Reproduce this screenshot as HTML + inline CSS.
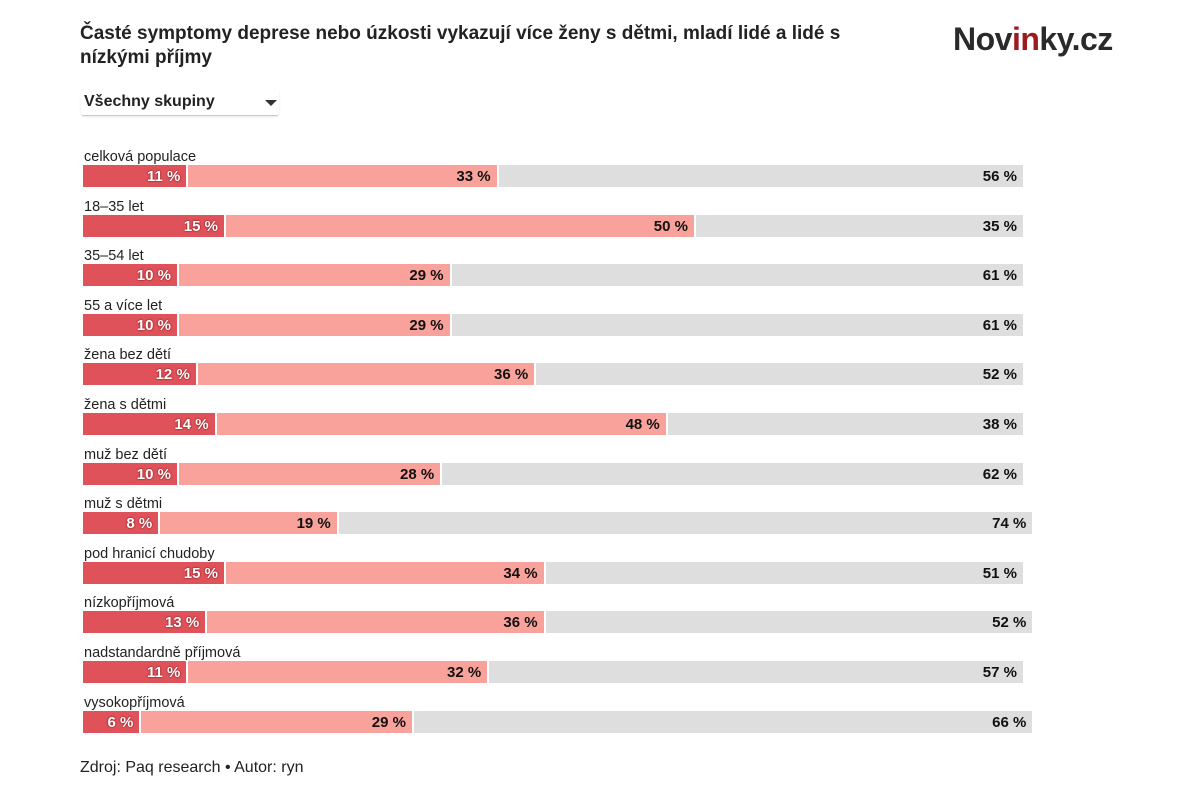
<!DOCTYPE html>
<html><head><meta charset="utf-8"><style>
body{margin:0;width:1200px;height:800px;background:#fff;font-family:"Liberation Sans",sans-serif;color:#222;position:relative;overflow:hidden}
.t{position:absolute;left:80px;top:22px;font-size:19px;font-weight:bold;line-height:24px;width:835px;color:#222}
.logo{position:absolute;left:953px;top:21px;font-size:32px;font-weight:bold;color:#2a2a2a;letter-spacing:-0.5px}
.logo span{color:#9b1b20}
.sel{position:absolute;left:81px;top:90px;width:198px;height:25px;border-bottom:1px solid #ccc;box-shadow:0 1px 2px rgba(0,0,0,.1);border-radius:0 0 3px 3px;font-size:16px;font-weight:bold}
.sel b{position:absolute;left:3px;top:3px}
.sel i{position:absolute;left:184px;top:10px;width:0;height:0;border-left:6px solid transparent;border-right:6px solid transparent;border-top:6px solid #333}
.row{position:absolute;left:83px}
.lb{font-size:14.5px;height:15px;line-height:15px;color:#222;margin-left:1px}
.bar{display:flex;height:22px;margin-top:0px}
.bar div{height:22px;box-sizing:border-box;text-align:right;padding-right:6px;font-size:15px;font-weight:bold;line-height:23px}
.a{background:#e0525a;color:#fff;text-shadow:0 0 2px #8a1a20,0 0 1px #8a1a20}
.b{background:#f9a29b;border-left:2px solid #fff;color:#111}
.c{background:#dedede;border-left:2px solid #fff;color:#111}
.src{position:absolute;left:80px;top:759px;font-size:16px;color:#222}
</style></head><body>
<div class="t">Časté symptomy deprese nebo úzkosti vykazují více ženy s dětmi, mladí lidé a lidé s nízkými příjmy</div>
<div class="logo">Nov<span>in</span>ky.cz</div>
<div class="sel"><b>Všechny skupiny</b><i></i></div>

<div class="row" style="top:150px"><div class="lb">celková populace</div><div class="bar"><div class="a" style="width:103.4px">11 %</div><div class="b" style="width:310.2px">33 %</div><div class="c" style="width:526.4px">56 %</div></div></div>
<div class="row" style="top:199.6px"><div class="lb">18–35 let</div><div class="bar"><div class="a" style="width:141px">15 %</div><div class="b" style="width:470px">50 %</div><div class="c" style="width:329px">35 %</div></div></div>
<div class="row" style="top:249.2px"><div class="lb">35–54 let</div><div class="bar"><div class="a" style="width:94px">10 %</div><div class="b" style="width:272.6px">29 %</div><div class="c" style="width:573.4px">61 %</div></div></div>
<div class="row" style="top:298.8px"><div class="lb">55 a více let</div><div class="bar"><div class="a" style="width:94px">10 %</div><div class="b" style="width:272.6px">29 %</div><div class="c" style="width:573.4px">61 %</div></div></div>
<div class="row" style="top:348.4px"><div class="lb">žena bez dětí</div><div class="bar"><div class="a" style="width:112.8px">12 %</div><div class="b" style="width:338.4px">36 %</div><div class="c" style="width:488.8px">52 %</div></div></div>
<div class="row" style="top:398px"><div class="lb">žena s dětmi</div><div class="bar"><div class="a" style="width:131.6px">14 %</div><div class="b" style="width:451.2px">48 %</div><div class="c" style="width:357.2px">38 %</div></div></div>
<div class="row" style="top:447.6px"><div class="lb">muž bez dětí</div><div class="bar"><div class="a" style="width:94px">10 %</div><div class="b" style="width:263.2px">28 %</div><div class="c" style="width:582.8px">62 %</div></div></div>
<div class="row" style="top:497.2px"><div class="lb">muž s dětmi</div><div class="bar"><div class="a" style="width:75.2px">8 %</div><div class="b" style="width:178.6px">19 %</div><div class="c" style="width:695.6px">74 %</div></div></div>
<div class="row" style="top:546.8px"><div class="lb">pod hranicí chudoby</div><div class="bar"><div class="a" style="width:141px">15 %</div><div class="b" style="width:319.6px">34 %</div><div class="c" style="width:479.4px">51 %</div></div></div>
<div class="row" style="top:596.4px"><div class="lb">nízkopříjmová</div><div class="bar"><div class="a" style="width:122.2px">13 %</div><div class="b" style="width:338.4px">36 %</div><div class="c" style="width:488.8px">52 %</div></div></div>
<div class="row" style="top:646px"><div class="lb">nadstandardně příjmová</div><div class="bar"><div class="a" style="width:103.4px">11 %</div><div class="b" style="width:300.8px">32 %</div><div class="c" style="width:535.8px">57 %</div></div></div>
<div class="row" style="top:695.6px"><div class="lb">vysokopříjmová</div><div class="bar"><div class="a" style="width:56.4px">6 %</div><div class="b" style="width:272.6px">29 %</div><div class="c" style="width:620.4px">66 %</div></div></div>

<div class="src">Zdroj: Paq research • Autor: ryn</div>
</body></html>
